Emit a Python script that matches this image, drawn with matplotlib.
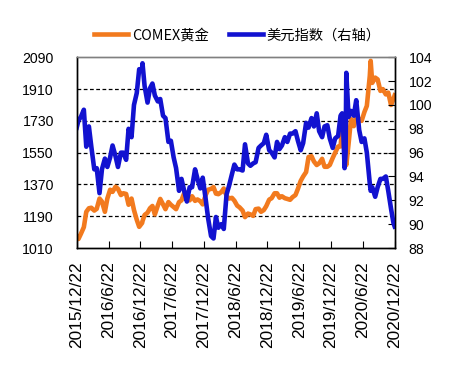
import matplotlib
matplotlib.use('Agg')
import matplotlib.pyplot as plt
import pandas as pd

plt.rcParams['font.family'] = ['Liberation Sans', 'Noto Sans CJK SC', 'DejaVu Sans']

# semi-monthly observations, 2015/12/22 .. 2020/12/22
base_dates = ['2015-12-22'] + [d.strftime('%Y-%m-%d') for d in
              pd.date_range('2016-01-01', '2020-12-15', freq='SMS')] + ['2020-12-22']

gold = [1075,
        1061, 1090, 1128, 1215, 1235, 1238, 1222, 1232, 1290, 1273, 1215, 1290,
        1340, 1328, 1357, 1345, 1310, 1320, 1316, 1255, 1290, 1225, 1170, 1130,
        1152, 1197, 1210, 1235, 1248, 1200, 1250, 1288, 1257, 1230, 1270, 1255,
        1242, 1230, 1270, 1280, 1325, 1322, 1280, 1303, 1277, 1285, 1275, 1257,
        1310, 1340, 1345, 1355, 1318, 1315, 1327, 1347, 1305, 1290, 1294, 1278,
        1250, 1240, 1222, 1185, 1205, 1200, 1192, 1230, 1233, 1215, 1225, 1247,
        1284, 1292, 1320, 1320, 1295, 1303, 1292, 1288, 1283, 1298, 1310, 1345,
        1390, 1415, 1440, 1525, 1530, 1500, 1480, 1490, 1515, 1470, 1470, 1480,
        1520, 1550, 1585, 1585, 1595, 1530, 1600, 1740, 1700, 1755, 1740, 1730,
        1780, 1815, 1985, 1945, 1975, 1965, 1900, 1910, 1880, 1890, 1820, 1855,
        1875]

usd = [98.1,
       98.7, 99.0, 99.6, 96.5, 98.2, 96.5, 94.6, 94.7, 92.6, 94.6, 95.5, 94.8,
       95.6, 96.6, 95.7, 94.8, 96.0, 96.0, 95.4, 98.0, 97.3, 100.0, 101.0, 103.0,
       103.0, 101.6, 100.2, 101.4, 101.8, 100.8, 100.3, 100.5, 99.1, 98.9, 96.9, 97.0,
       95.6, 94.7, 92.8, 93.8, 92.7, 91.9, 93.1, 93.1, 94.6, 93.8, 93.0, 93.9,
       92.1, 90.5, 89.0, 88.8, 90.6, 89.7, 90.0, 89.6, 92.5, 93.2, 94.2, 95.0,
       94.6, 94.6, 94.5, 96.7, 95.1, 94.9, 95.1, 95.2, 96.4, 96.6, 96.8, 97.5,
       96.2, 96.0, 95.6, 96.9, 96.3, 96.6, 97.3, 96.9, 97.6, 97.6, 97.8, 97.0,
       96.2, 96.8, 98.5, 98.1, 98.9, 98.2, 99.3, 97.8, 97.3, 98.2, 98.3, 97.2,
       96.4, 97.2, 97.4, 99.1, 98.1, 96.0, 99.0, 99.5, 99.1, 100.4, 97.9, 96.9,
       97.2, 96.0, 93.4, 93.1, 92.3, 93.1, 93.8, 93.8, 94.0, 92.8, 91.3, 90.1,
       89.8]

# a few extra daily extremes
extra_dates = ['2017-01-03', '2020-02-24', '2020-03-09', '2020-03-19', '2020-08-06']
extra_gold = [1162, 1690, 1675, 1480, 2070]
extra_usd = [103.5, 99.3, 94.7, 102.7, 92.8]

df = pd.DataFrame({'date': pd.to_datetime(base_dates + extra_dates),
                   'gold': gold + extra_gold,
                   'usd': usd + extra_usd}).sort_values('date')

tick_dates = pd.date_range('2015-12-01', '2020-12-01', freq='6MS') + pd.Timedelta(days=21)
tick_labels = [f'{d.year}/{d.month}/{d.day}' for d in tick_dates]

fig = plt.figure(figsize=(4.52, 3.66), dpi=100)
ax = fig.add_axes([0.1697, 0.3224, 0.7035, 0.521])
ax2 = ax.twinx()

l1, = ax.plot(df['date'], df['gold'], color='#F27A1E', lw=3.3, label='COMEX黄金')
l2, = ax2.plot(df['date'], df['usd'], color='#1212D0', lw=3.3, label='美元指数（右轴）')

ax.set_xlim(pd.Timestamp('2015-12-22'), pd.Timestamp('2020-12-22'))
ax.set_ylim(1010, 2090)
ax.set_yticks(range(1010, 2091, 180))
ax2.set_ylim(88, 104)
ax2.set_yticks(range(88, 105, 2))

ax.set_xticks(tick_dates)
ax.set_xticklabels(tick_labels, rotation=90, fontsize=12.4)
ax.tick_params(axis='x', direction='in', length=5, pad=9.5)
ax.tick_params(axis='y', length=0, pad=16.5, labelsize=10.2)
ax2.tick_params(axis='y', direction='in', length=5, pad=10, labelsize=10.2)

for y in range(1190, 1911, 180):
    ax.axhline(y, color='black', lw=0.9, ls=(0, (3, 2)), zorder=0)

for a in (ax, ax2):
    for s in a.spines.values():
        s.set_linewidth(1)
    a.spines['top'].set_color('#808080')

fig.legend(handles=[l1, l2], loc='center', bbox_to_anchor=(0.525, 0.904), ncol=2,
           frameon=False, handlelength=2.4, handletextpad=0.25, columnspacing=1.4,
           prop={'family': ['Noto Sans CJK SC', 'DejaVu Sans'], 'size': 10.3})

fig.savefig('out.png', dpi=100)
